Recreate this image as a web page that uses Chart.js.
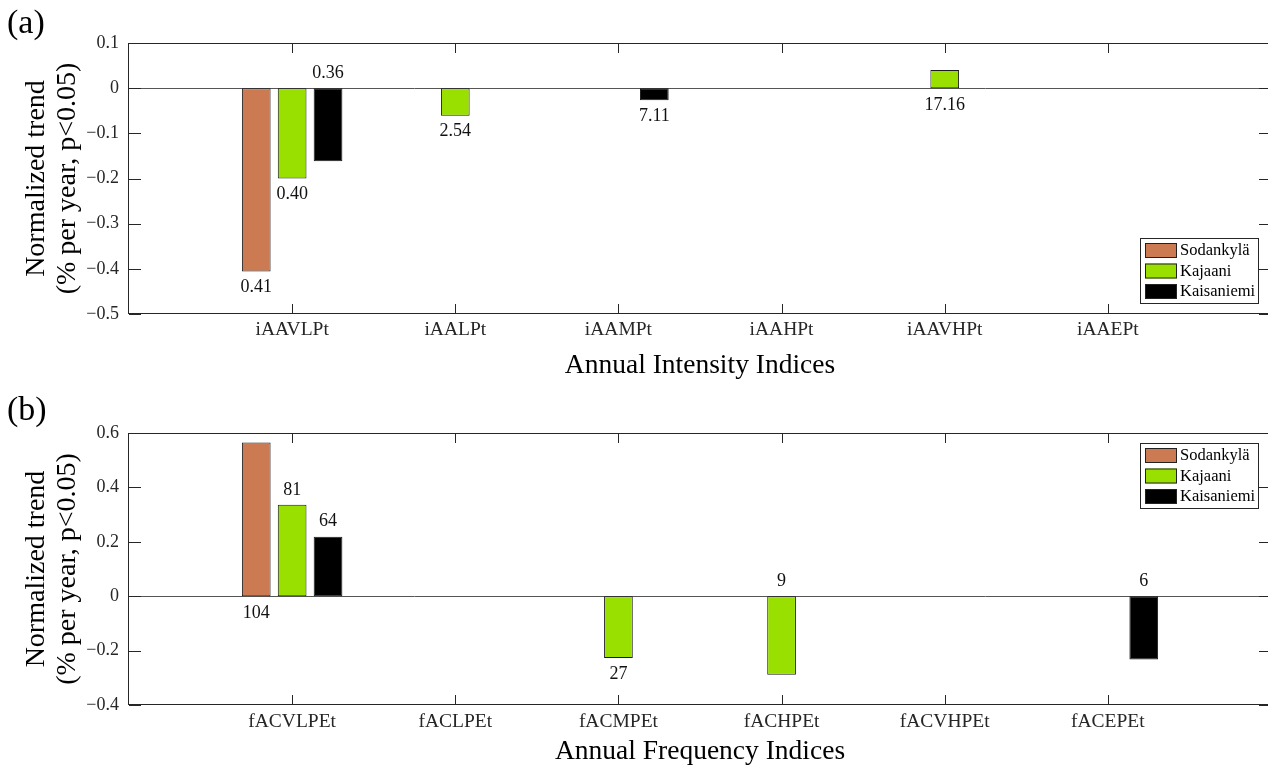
<!DOCTYPE html>
<html>
<head>
<meta charset="utf-8">
<script src="https://cdn.jsdelivr.net/npm/chart.js@4.4.0/dist/chart.umd.min.js"></script>
<style>
  html, body { margin: 0; padding: 0; background: #fff; overflow: hidden; }
  .panel { position: absolute; left: 0; width: 1272px; height: 386px; }
  #panelA { top: 0; }
  #panelB { top: 386px; }
</style>
</head>
<body>
<div class="panel" id="panelA"><canvas id="chartA"></canvas></div>
<div class="panel" id="panelB"><canvas id="chartB"></canvas></div>
<script>
const stations = ['Sodankylä', 'Kajaani', 'Kaisaniemi']
const stationColors = ['#cc7a52', '#99e000', '#000000']

// (a) annual intensity indices
const intensityIndices = ['iAAVLPt', 'iAALPt', 'iAAMPt', 'iAAHPt', 'iAAVHPt', 'iAAEPt']
const intensitySodankyla = [-0.406, null, null, null, null, null]
const intensityKajaani = [-0.200, -0.061, null, null, 0.040, null]
const intensityKaisaniemi = [-0.162, null, -0.027, null, null, null]
const intensityLabelsSodankyla = ['0.41', '', '', '', '', '']
const intensityLabelsKajaani = ['0.40', '2.54', '', '', '17.16', '']
const intensityLabelsKaisaniemi = ['0.36', '', '7.11', '', '', '']
const intensityTicks = [-0.5, -0.4, -0.3, -0.2, -0.1, 0, 0.1]

// (b) annual frequency indices
const frequencyIndices = ['fACVLPEt', 'fACLPEt', 'fACMPEt', 'fACHPEt', 'fACVHPEt', 'fACEPEt']
const frequencySodankyla = [0.565, null, null, null, null, null]
const frequencyKajaani = [0.336, null, -0.227, -0.289, null, null]
const frequencyKaisaniemi = [0.219, null, null, null, null, -0.233]
const frequencyLabelsSodankyla = ['104', '', '', '', '', '']
const frequencyLabelsKajaani = ['81', '', '27', '9', '', '']
const frequencyLabelsKaisaniemi = ['64', '', '', '', '', '6']
const frequencyTicks = [-0.4, -0.2, 0, 0.2, 0.4, 0.6]

const FONT = "'Liberation Serif', 'Times New Roman', serif"
const AXIS_COLOR = '#262626'

const fmtTick = v => v === 0 ? '0' : (v < 0 ? '\u2212' : '') + Math.abs(v).toFixed(1)

// matlab-like box, inward ticks, zero baseline, bar labels, legend and panel tag
const matlabAxes = {
  id: 'matlabAxes',
  beforeDatasetsDraw(chart) {
    const { ctx, chartArea: a, scales: { y } } = chart
    const y0 = Math.round(y.getPixelForValue(0)) + 0.5
    ctx.save()
    ctx.strokeStyle = '#555'
    ctx.lineWidth = 1
    ctx.beginPath()
    ctx.moveTo(a.left, y0)
    ctx.lineTo(a.right, y0)
    ctx.stroke()
    ctx.restore()
  },
  afterDatasetsDraw(chart, args, opts) {
    const { ctx } = chart
    ctx.save()
    ctx.font = '18px ' + FONT
    ctx.fillStyle = '#111'
    ctx.textAlign = 'center'
    ctx.textBaseline = 'middle'
    chart.data.datasets.forEach((ds, k) => {
      const meta = chart.getDatasetMeta(k)
      ds.valueLabels.forEach((txt, i) => {
        if (!txt) return
        const el = meta.data[i]
        const v = ds.data[i].y
        const atBase = (opts.baseLabels[k] || []).includes(i)
        let ty
        if (atBase) ty = v < 0 ? el.base - 15 : el.base + 17
        else ty = v < 0 ? el.y + 16 : el.y - 15
        ctx.fillText(txt, el.x, ty)
      })
    })
    ctx.restore()
  },
  afterDraw(chart, args, opts) {
    const { ctx, chartArea: a, scales: { x, y } } = chart
    ctx.save()
    ctx.strokeStyle = AXIS_COLOR
    ctx.lineWidth = 1
    ctx.strokeRect(a.left - 0.5, a.top + 0.5, a.right - a.left, a.bottom - a.top - 1)
    ctx.beginPath()
    x.ticks.forEach(t => {
      const px = Math.round(x.getPixelForValue(t.value)) + 0.5
      ctx.moveTo(px, a.bottom); ctx.lineTo(px, a.bottom - 10)
      ctx.moveTo(px, a.top); ctx.lineTo(px, a.top + 10)
    })
    y.ticks.forEach(t => {
      const py = Math.round(y.getPixelForValue(t.value)) + 0.5
      ctx.moveTo(a.left, py); ctx.lineTo(a.left + 12, py)
      ctx.moveTo(a.right, py); ctx.lineTo(a.right - 12, py)
    })
    ctx.stroke()

    // panel tag
    ctx.fillStyle = '#000'
    ctx.font = '34px ' + FONT
    ctx.textAlign = 'left'
    ctx.textBaseline = 'middle'
    ctx.fillText(opts.tag, 7, opts.tagY)

    // legend
    const w = 118, h = 65
    const bx = a.right - 13 - w
    const by = opts.legendTop ? a.top + 10 : a.bottom - 11 - h
    ctx.fillStyle = '#fff'
    ctx.fillRect(bx, by, w, h)
    ctx.strokeStyle = AXIS_COLOR
    ctx.strokeRect(bx + 0.5, by + 0.5, w, h)
    ctx.font = '16.5px ' + FONT
    chart.data.datasets.forEach((ds, k) => {
      const sy = by + 5 + k * 20.5
      ctx.fillStyle = ds.backgroundColor
      ctx.fillRect(bx + 5, sy, 32, 15)
      ctx.strokeStyle = '#222'
      ctx.strokeRect(bx + 5.5, sy + 0.5, 31, 14)
      ctx.fillStyle = '#000'
      ctx.fillText(ds.label, bx + 40, sy + 8)
    })
    ctx.restore()
  }
}

function makeChart(id, cats, series, labels, yTicks, xTitle, tag, tagY, legendTop, topPad, xHeight, tickPad, baseLabels) {
  return new Chart(document.getElementById(id), {
    type: 'bar',
    data: {
      datasets: series.map((vals, k) => ({
        label: stations[k],
        data: cats.map((c, i) => ({ x: i + 1, y: vals[i] })),
        valueLabels: labels[k],
        backgroundColor: stationColors[k],
        borderColor: '#1a1a1a',
        borderWidth: 1,
        borderSkipped: false,
        categoryPercentage: 0.66,
        barPercentage: 0.8
      }))
    },
    options: {
      responsive: true,
      maintainAspectRatio: false,
      animation: false,
      layout: { padding: { top: topPad, right: 1, left: 0, bottom: 0 } },
      plugins: {
        legend: { display: false },
        tooltip: { enabled: false },
        matlabAxes: { tag, tagY, legendTop, baseLabels }
      },
      scales: {
        x: {
          type: 'linear',
          min: 0,
          max: 7,
          offset: false,
          afterBuildTicks: s => { s.ticks = cats.map((c, i) => ({ value: i + 1 })) },
          afterFit: s => { s.height = xHeight },
          grid: { display: false, drawTicks: false, offset: false },
          border: { display: false },
          ticks: {
            autoSkip: false,
            maxRotation: 0,
            padding: tickPad,
            color: AXIS_COLOR,
            font: { family: FONT, size: 19.5 },
            callback: v => cats[v - 1] || ''
          },
          title: {
            display: true,
            text: xTitle,
            color: '#000',
            font: { family: FONT, size: 27.5, lineHeight: 1.1 },
            padding: { top: 0, bottom: 5 }
          }
        },
        y: {
          min: yTicks[0],
          max: yTicks[yTicks.length - 1],
          afterBuildTicks: s => { s.ticks = yTicks.map(v => ({ value: v })) },
          afterFit: s => { s.width = 129 },
          grid: { display: false, drawTicks: false },
          border: { display: false },
          ticks: {
            padding: 10,
            color: AXIS_COLOR,
            font: { family: FONT, size: 18 },
            callback: v => fmtTick(v)
          },
          title: {
            display: true,
            text: ['Normalized trend', '(% per year, p<0.05)'],
            color: '#000',
            font: { family: FONT, size: 28, lineHeight: 1.08 },
            padding: { top: 22, bottom: 0 }
          }
        }
      }
    },
    plugins: [matlabAxes]
  })
}

makeChart('chartA', intensityIndices,
  [intensitySodankyla, intensityKajaani, intensityKaisaniemi],
  [intensityLabelsSodankyla, intensityLabelsKajaani, intensityLabelsKaisaniemi],
  intensityTicks, 'Annual Intensity Indices', '(a)', 24, false, 43, 72, 4,
  { 2: [0], 1: [4] })

makeChart('chartB', frequencyIndices,
  [frequencySodankyla, frequencyKajaani, frequencyKaisaniemi],
  [frequencyLabelsSodankyla, frequencyLabelsKajaani, frequencyLabelsKaisaniemi],
  frequencyTicks, 'Annual Frequency Indices', '(b)', 25, true, 47, 67, 5,
  { 0: [0], 1: [3], 2: [5] })
</script>
</body>
</html>
